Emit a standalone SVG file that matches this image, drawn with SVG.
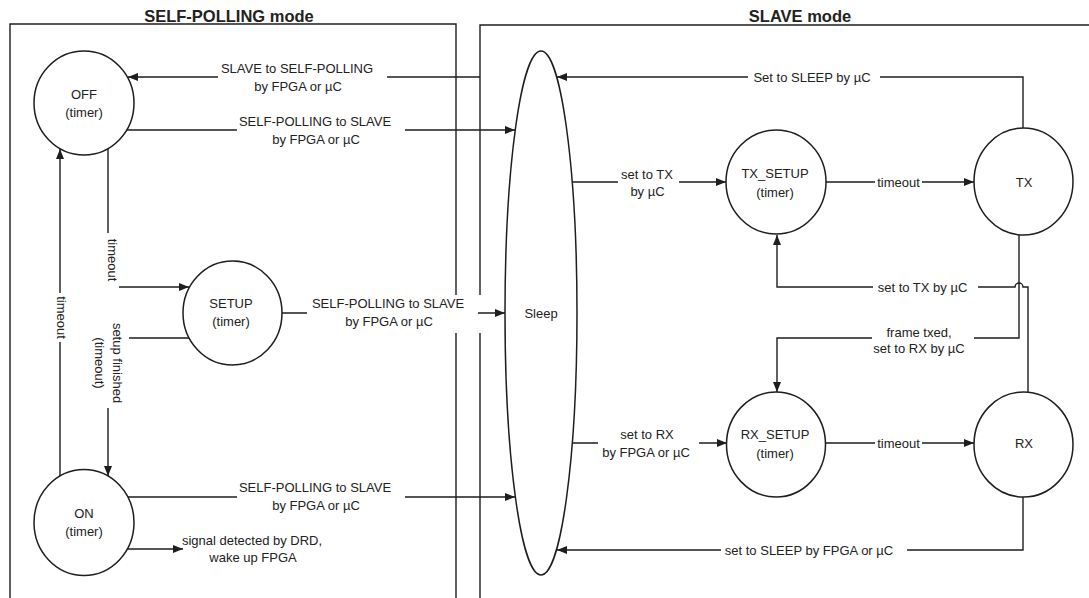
<svg xmlns="http://www.w3.org/2000/svg" width="1089" height="598" viewBox="0 0 1089 598">
<style>
  .frame{fill:none;stroke:#1e1e1e;stroke-width:1.4}
  .node{fill:#fff;stroke:#1e1e1e;stroke-width:1.5}
  .conn{fill:none;stroke:#1e1e1e;stroke-width:1.4}
  .arr{marker-end:url(#ah)}
  text{font-family:"Liberation Sans",Arial,sans-serif;font-size:13px;fill:#222}
  .c{text-anchor:middle}
  .title{font-size:16.5px;font-weight:bold;text-anchor:middle}
</style>
<defs>
  <marker id="ah" markerUnits="userSpaceOnUse" markerWidth="11" markerHeight="9" refX="10" refY="4" orient="auto">
    <path d="M0,0 L10,4 L0,8 z" fill="#1e1e1e"/>
  </marker>
</defs>
<rect width="1089" height="598" fill="#fff"/>

<g id="self-polling-mode">
  <path class="frame" d="M10,598 V24 H456 V598"/>
  <text class="title" x="229" y="22">SELF-POLLING mode</text>
</g>
<g id="slave-mode">
  <path class="frame" d="M480,598 V25 H1089"/>
  <text class="title" x="800" y="22">SLAVE mode</text>
</g>

<g id="connectors">
  <!-- Sleep -> OFF -->
  <path class="conn arr" d="M480,77 H387 M218,77 H128"/>
  <text class="c" x="297" y="73">SLAVE to SELF-POLLING</text>
  <text class="c" x="298" y="91">by FPGA or µC</text>
  <!-- OFF -> Sleep -->
  <path class="conn arr" d="M127,130 H237 M405,130 H515"/>
  <text class="c" x="315" y="126">SELF-POLLING to SLAVE</text>
  <text class="c" x="316" y="144">by FPGA or µC</text>
  <!-- OFF -> SETUP -->
  <path class="conn arr" d="M108,149 V233 M119,287 H189"/>
  <text class="c" transform="translate(107.5,260) rotate(90)">timeout</text>
  <!-- SETUP -> ON -->
  <path class="conn arr" d="M189,338 H129 M108,408 V476"/>
  <g transform="translate(113,363) rotate(90)">
    <text class="c" x="0" y="0">setup finished</text>
    <text class="c" x="0" y="18">(timeout)</text>
  </g>
  <!-- ON -> OFF -->
  <path class="conn arr" d="M60,476 V342 M60,293 V149"/>
  <text class="c" transform="translate(57,317.5) rotate(90)">timeout</text>
  <!-- SETUP -> Sleep -->
  <rect x="306" y="295" width="176" height="38" fill="#fff"/>
  <path class="conn arr" d="M282,313 H307 M478,313 H505"/>
  <text class="c" x="388" y="308">SELF-POLLING to SLAVE</text>
  <text class="c" x="389" y="326">by FPGA or µC</text>
  <!-- ON -> Sleep -->
  <path class="conn arr" d="M128,497 H237 M405,497 H515"/>
  <text class="c" x="315" y="492">SELF-POLLING to SLAVE</text>
  <text class="c" x="316" y="510">by FPGA or µC</text>
  <!-- ON -> wake up -->
  <path class="conn arr" d="M127,549 H183"/>
  <text class="c" x="252" y="545">signal detected by DRD,</text>
  <text class="c" x="253" y="562">wake up FPGA</text>
  <!-- Sleep -> TX_SETUP -->
  <path class="conn arr" d="M572,182 H618 M679,182 H726"/>
  <text class="c" x="647" y="179">set to TX</text>
  <text class="c" x="647.5" y="196">by µC</text>
  <!-- TX_SETUP -> TX -->
  <path class="conn arr" d="M826,182 H875 M922,182 H974"/>
  <text class="c" x="898.5" y="187">timeout</text>
  <!-- TX -> Sleep -->
  <path class="conn arr" d="M1023,128 V77 H880 M748,77 H557"/>
  <text class="c" x="812" y="82">Set to SLEEP by µC</text>
  <!-- RX -> TX_SETUP -->
  <path class="conn arr" d="M1028,392 V287 H1023 a4,4 0 0 0 -8,0 H978 M873,287 H777 V235"/>
  <text class="c" x="922.5" y="292">set to TX by µC</text>
  <!-- TX -> RX_SETUP -->
  <path class="conn arr" d="M1019,235 V338 H974 M872,338 H777 V392"/>
  <text class="c" x="919" y="337">frame txed,</text>
  <text class="c" x="919" y="353">set to RX by µC</text>
  <!-- Sleep -> RX_SETUP -->
  <path class="conn arr" d="M572,443 H598 M699,443 H727"/>
  <text class="c" x="647" y="439">set to RX</text>
  <text class="c" x="646" y="457">by FPGA or µC</text>
  <!-- RX_SETUP -> RX -->
  <path class="conn arr" d="M825,443 H875 M922,443 H974"/>
  <text class="c" x="898.5" y="448">timeout</text>
  <!-- RX -> Sleep -->
  <path class="conn arr" d="M1023,497 V550 H907 M721,550 H557"/>
  <text class="c" x="809" y="555">set to SLEEP by FPGA or µC</text>
</g>

<g id="off">
  <ellipse class="node" cx="84" cy="103" rx="50" ry="52"/>
  <text class="c" x="84" y="99">OFF</text>
  <text class="c" x="84" y="117">(timer)</text>
</g>
<g id="setup">
  <ellipse class="node" cx="232.5" cy="313" rx="49.5" ry="52"/>
  <text class="c" x="231" y="308">SETUP</text>
  <text class="c" x="231" y="326">(timer)</text>
</g>
<g id="on">
  <ellipse class="node" cx="84" cy="522.5" rx="50" ry="53"/>
  <text class="c" x="84" y="518">ON</text>
  <text class="c" x="84" y="536">(timer)</text>
</g>
<g id="sleep">
  <ellipse class="node" cx="541" cy="313" rx="36" ry="262"/>
  <text class="c" x="541" y="318">Sleep</text>
</g>
<g id="tx_setup">
  <ellipse class="node" cx="776" cy="182" rx="50" ry="52"/>
  <text class="c" x="775" y="178">TX_SETUP</text>
  <text class="c" x="775" y="197">(timer)</text>
</g>
<g id="tx">
  <ellipse class="node" cx="1023.5" cy="181.5" rx="49.5" ry="53.5"/>
  <text class="c" x="1024" y="187">TX</text>
</g>
<g id="rx_setup">
  <ellipse class="node" cx="776" cy="444.5" rx="49.5" ry="52.5"/>
  <text class="c" x="775" y="439">RX_SETUP</text>
  <text class="c" x="775" y="458">(timer)</text>
</g>
<g id="rx">
  <ellipse class="node" cx="1023.5" cy="444.5" rx="49.5" ry="52.5"/>
  <text class="c" x="1024" y="448">RX</text>
</g>
</svg>
